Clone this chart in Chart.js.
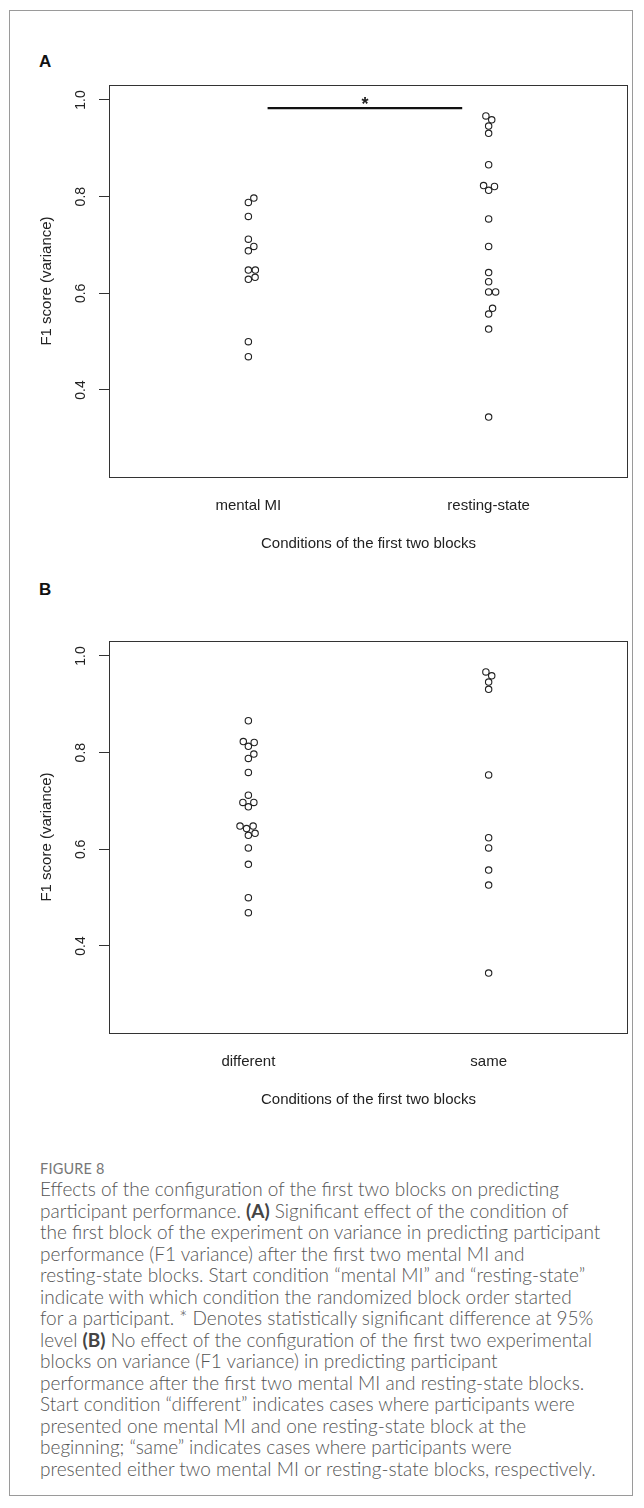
<!DOCTYPE html>
<html>
<head>
<meta charset="utf-8">
<script src="https://cdn.jsdelivr.net/npm/chart.js@4.4.0/dist/chart.umd.min.js"></script>
<style>
  html, body { margin: 0; padding: 0; background: #fff; }
  body { width: 644px; height: 1508px; position: relative; overflow: hidden; }
  .frame { position: absolute; left: 9px; top: 10px; width: 624px; height: 1486px; border: 1px solid #9a9a9a; box-sizing: border-box; }
  .panel { position: absolute; left: 0; }
  .tag { position: absolute; left: 39px; font: bold 17px "Liberation Sans", Arial, sans-serif; color: #111; }
  .caption { position: absolute; left: 40px; top: 1160px; width: 600px; font-family: Lato, "Open Sans", sans-serif; color: #555; white-space: nowrap; }
  .caption .fig { font-size: 14.5px; color: #777; letter-spacing: 0.2px; margin-bottom: 1px; }
  .caption .body { font-size: 19px; line-height: 21.5px; font-weight: 300; }
  .caption b { font-weight: 700; color: #444; }
</style>
</head>
<body>
<div class="frame"></div>
<div class="tag" style="top:52px">A</div>
<div class="tag" style="top:580px">B</div>
<canvas id="chartA" class="panel" style="top:0px" width="644" height="560"></canvas>
<canvas id="chartB" class="panel" style="top:556px" width="644" height="560"></canvas>
<div class="caption">
  <div class="fig">FIGURE 8</div>
  <div class="body">
    Effects of the configuration of the first two blocks on predicting<br>
    participant performance. <b>(A)</b> Significant effect of the condition of<br>
    the first block of the experiment on variance in predicting participant<br>
    performance (F1 variance) after the first two mental MI and<br>
    resting-state blocks. Start condition “mental MI” and “resting-state”<br>
    indicate with which condition the randomized block order started<br>
    for a participant. * Denotes statistically significant difference at 95%<br>
    level <b>(B)</b> No effect of the configuration of the first two experimental<br>
    blocks on variance (F1 variance) in predicting participant<br>
    performance after the first two mental MI and resting-state blocks.<br>
    Start condition “different” indicates cases where participants were<br>
    presented one mental MI and one resting-state block at the<br>
    beginning; “same” indicates cases where participants were<br>
    presented either two mental MI or resting-state blocks, respectively.
  </div>
</div>
<script>
// panel A: start condition
const categoriesA = ['mental MI', 'resting-state'];
const mentalMI = [0.797, 0.788, 0.759, 0.712, 0.697, 0.688, 0.648, 0.648, 0.633, 0.629, 0.500, 0.469];
const restingState = [0.967, 0.959, 0.946, 0.931, 0.866, 0.823, 0.821, 0.813, 0.754, 0.697,
                      0.643, 0.624, 0.603, 0.603, 0.569, 0.557, 0.526, 0.344];

// panel B: first two blocks same / different
const categoriesB = ['different', 'same'];
const different = [0.866, 0.823, 0.821, 0.813, 0.797, 0.788, 0.759, 0.712, 0.697, 0.697,
                   0.688, 0.648, 0.648, 0.643, 0.633, 0.629, 0.603, 0.569, 0.500, 0.469];
const same = [0.967, 0.959, 0.946, 0.931, 0.754, 0.624, 0.603, 0.557, 0.526, 0.344];

const yTicks = [0.4, 0.6, 0.8, 1.0];
const yRange = [0.22, 1.031];
const xRange = [0.42, 2.58];

// significance bar (panel A only)
const sigBarX = [1.08, 1.89];
const sigBarY = 0.983;
const sigStarY = 1.0;

const FONT = '"Liberation Sans", Arial, sans-serif';
const DOT = 7; // px between dot centres in the swarm

// spread points sideways like beeswarm's "swarm" method
const swarmPlugin = {
    id: 'swarm',
    afterDatasetsUpdate(chart) {
        chart.data.datasets.forEach((ds, i) => {
            if (!ds.swarm) return;
            const pts = chart.getDatasetMeta(i).data;
            const order = pts.map((p, k) => k).sort((a, b) => pts[b].y - pts[a].y);
            const placed = [];
            order.forEach(k => {
                const p = pts[k];
                const cands = [0];
                placed.forEach(q => {
                    const dy = p.y - q.y;
                    if (Math.abs(dy) < DOT) {
                        const dx = Math.sqrt(DOT * DOT - dy * dy);
                        cands.push(q.off + dx, q.off - dx);
                    }
                });
                cands.sort((a, b) => Math.abs(a) - Math.abs(b) || b - a);
                const off = cands.find(c => placed.every(q => Math.hypot(c - q.off, p.y - q.y) >= DOT - 1e-6));
                placed.push({y: p.y, off: off});
                p.x += off;
            });
        });
    }
};

const framePlugin = {
    id: 'frameBox',
    afterDraw(chart) {
        const {ctx, chartArea: a, scales} = chart;
        ctx.save();
        ctx.strokeStyle = '#333';
        ctx.lineWidth = 1;
        ctx.strokeRect(a.left + 0.5, a.top + 0.5, a.right - a.left - 1, a.bottom - a.top);
        // rotated y tick labels, R style
        ctx.fillStyle = '#222';
        ctx.font = '14px ' + FONT;
        ctx.textAlign = 'center';
        ctx.textBaseline = 'middle';
        yTicks.forEach(v => {
            ctx.save();
            ctx.translate(a.left - 28, scales.y.getPixelForValue(v));
            ctx.rotate(-Math.PI / 2);
            ctx.fillText(v.toFixed(1), 0, 0);
            ctx.restore();
        });
        const sig = chart.options.plugins.frameBox.sig;
        if (sig) {
            ctx.font = 'bold 18px ' + FONT;
            ctx.textBaseline = 'alphabetic';
            const x = scales.x.getPixelForValue((sigBarX[0] + sigBarX[1]) / 2);
            ctx.fillText('*', x, scales.y.getPixelForValue(sigStarY) + 10);
        }
        ctx.restore();
    }
};

function makePanel(id, cats, groups, sig) {
    const datasets = groups.map((vals, i) => ({
        data: vals.map(v => ({x: i + 1, y: v})),
        swarm: true,
        pointRadius: 3.2,
        pointBorderWidth: 1.1,
        pointBorderColor: '#222',
        pointBackgroundColor: 'rgba(0,0,0,0)',
        showLine: false
    }));
    if (sig) {
        datasets.push({
            type: 'line',
            data: sigBarX.map(x => ({x: x, y: sigBarY})),
            borderColor: '#111',
            borderWidth: 2.2,
            pointRadius: 0
        });
    }
    return new Chart(document.getElementById(id).getContext('2d'), {
        type: 'scatter',
        data: {datasets: datasets},
        options: {
            responsive: false,
            animation: false,
            layout: {padding: {top: 85, right: 16, left: 0, bottom: 7}},
            plugins: {
                legend: {display: false},
                tooltip: {enabled: false},
                frameBox: {sig: sig}
            },
            scales: {
                x: {
                    type: 'linear',
                    min: xRange[0],
                    max: xRange[1],
                    afterBuildTicks: s => { s.ticks = [{value: 1}, {value: 2}]; },
                    afterFit: s => { s.height = 76; },
                    grid: {display: false, drawTicks: false},
                    border: {display: false},
                    ticks: {
                        callback: v => cats[v - 1],
                        font: {family: FONT, size: 15},
                        color: '#222',
                        padding: 20,
                        maxRotation: 0
                    },
                    title: {
                        display: true,
                        text: 'Conditions of the first two blocks',
                        font: {family: FONT, size: 15},
                        color: '#222',
                        padding: {top: 0, bottom: 0}
                    }
                },
                y: {
                    min: yRange[0],
                    max: yRange[1],
                    afterBuildTicks: s => { s.ticks = yTicks.map(v => ({value: v})); },
                    afterFit: s => { s.width = 109; },
                    grid: {drawOnChartArea: false, drawTicks: true, tickLength: 10, color: '#333'},
                    border: {display: false},
                    ticks: {display: false},
                    title: {
                        display: true,
                        text: 'F1 score (variance)',
                        font: {family: FONT, size: 15},
                        color: '#222',
                        padding: {top: 38, bottom: 0}
                    }
                }
            }
        },
        plugins: [swarmPlugin, framePlugin]
    });
}

makePanel('chartA', categoriesA, [mentalMI, restingState], true);
makePanel('chartB', categoriesB, [different, same], false);
</script>
</body>
</html>
